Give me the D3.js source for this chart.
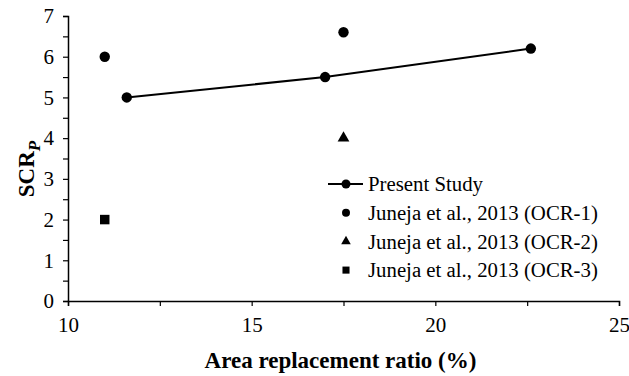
<!DOCTYPE html>
<html>
<head>
<meta charset="utf-8">
<script src="https://cdn.jsdelivr.net/npm/d3@7"></script>
<style>
  body { margin: 0; background: #fff; }
  svg, svg text { font-family: "Times New Roman", "Liberation Serif", "DejaVu Serif", serif !important; }
</style>
</head>
<body>
<div id="chart"></div>
<script>
// chart data
const presentX = [11.6, 17.0, 22.6];
const presentY = [5.0, 5.5, 6.2];
const ocr1X = [11.0, 17.5];
const ocr1Y = [6.0, 6.6];
const ocr2X = [17.5];
const ocr2Y = [4.0];
const ocr3X = [11.0];
const ocr3Y = [2.0];
const xTicks = [10, 12.5, 15, 17.5, 20, 22.5, 25];
const xLabels = [10, 15, 20, 25];
const yTicks = d3.range(0, 7.01, 0.5);
const yLabels = [0, 1, 2, 3, 4, 5, 6, 7];
const legendNames = ['Present Study', 'Juneja et al., 2013 (OCR-1)', 'Juneja et al., 2013 (OCR-2)', 'Juneja et al., 2013 (OCR-3)'];

const width = 629, height = 376;
const margin = {left: 68, right: 10, top: 16, bottom: 75};

const svg = d3.select('#chart').append('svg')
    .attr('width', width)
    .attr('height', height);

const x = d3.scaleLinear().domain([10, 25]).range([margin.left, width - margin.right]);
const y = d3.scaleLinear().domain([0, 7]).range([height - margin.bottom, margin.top]);

// X axis
const xAxis = svg.append('g')
    .attr('transform', `translate(0, ${y(0)})`)
    .call(d3.axisBottom(x).tickValues(xTicks).tickSize(5)
        .tickFormat(d => xLabels.includes(d) ? d : ''));
xAxis.select('.domain').attr('stroke-width', 1.5);
xAxis.selectAll('text').attr('font-size', 21).attr('dy', '1.1em');
xAxis.selectAll('line').attr('stroke-width', 1.2);

// Y axis
const yAxis = svg.append('g')
    .attr('transform', `translate(${x(10)}, 0)`)
    .call(d3.axisLeft(y).tickValues(yTicks).tickSize(5)
        .tickFormat(d => yLabels.includes(d) ? d : ''));
yAxis.select('.domain').attr('stroke-width', 1.5);
yAxis.selectAll('text').attr('font-size', 21).attr('x', -14);
yAxis.selectAll('line').attr('stroke-width', 1.2);

// Present study line
const present = presentX.map((v, i) => [v, presentY[i]]);
svg.append('path')
    .datum(present)
    .attr('d', d3.line().x(d => x(d[0])).y(d => y(d[1])))
    .attr('fill', 'none')
    .attr('stroke', 'black')
    .attr('stroke-width', 2);

svg.selectAll('.present')
    .data(present)
    .join('circle')
    .attr('cx', d => x(d[0]))
    .attr('cy', d => y(d[1]))
    .attr('r', 5.2);

// OCR-1 circles
svg.selectAll('.ocr1')
    .data(ocr1X.map((v, i) => [v, ocr1Y[i]]))
    .join('circle')
    .attr('cx', d => x(d[0]))
    .attr('cy', d => y(d[1]))
    .attr('r', 5.2);

// OCR-2 triangles
svg.selectAll('.ocr2')
    .data(ocr2X.map((v, i) => [v, ocr2Y[i]]))
    .join('path')
    .attr('d', d3.symbol(d3.symbolTriangle, 60))
    .attr('transform', d => `translate(${x(d[0])}, ${y(d[1])})`);

// OCR-3 squares
svg.selectAll('.ocr3')
    .data(ocr3X.map((v, i) => [v, ocr3Y[i]]))
    .join('path')
    .attr('d', d3.symbol(d3.symbolSquare, 90))
    .attr('transform', d => `translate(${x(d[0])}, ${y(d[1])})`);

// Legend
const legend = svg.append('g').attr('transform', 'translate(346, 184)');
const rowH = 28.7;
legend.append('line')
    .attr('x1', -18).attr('x2', 17)
    .attr('stroke', 'black').attr('stroke-width', 2);
legend.append('circle').attr('r', 4.5);
legend.append('circle').attr('cy', rowH).attr('r', 4);
legend.append('path')
    .attr('d', d3.symbol(d3.symbolTriangle, 40))
    .attr('transform', `translate(0, ${rowH * 2})`);
legend.append('path')
    .attr('d', d3.symbol(d3.symbolSquare, 50))
    .attr('transform', `translate(0, ${rowH * 3})`);
legend.selectAll('text')
    .data(legendNames)
    .join('text')
    .attr('x', 22)
    .attr('y', (d, i) => i * rowH)
    .attr('dy', '0.35em')
    .attr('font-size', 20.8)
    .text(d => d);

// Axis titles
svg.append('text')
    .attr('x', (x(10) + x(25)) / 2 - 3)
    .attr('y', 368)
    .attr('text-anchor', 'middle')
    .attr('font-size', 23)
    .attr('font-weight', 'bold')
    .text('Area replacement ratio (%)');

const yTitle = svg.append('text')
    .attr('transform', 'translate(34, 169) rotate(-90)')
    .attr('text-anchor', 'middle')
    .attr('font-size', 23)
    .attr('font-weight', 'bold');
yTitle.append('tspan').text('SCR');
yTitle.append('tspan')
    .attr('font-style', 'italic')
    .attr('font-size', 17)
    .attr('dy', 6)
    .text('P');
</script>
</body>
</html>
